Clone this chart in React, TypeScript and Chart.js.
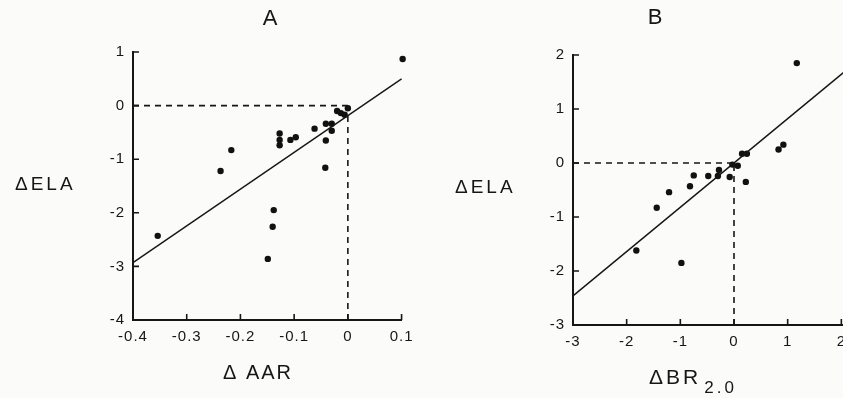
import React, { useEffect, useRef } from 'react';
import { Chart, registerables } from 'chart.js';

Chart.register(...registerables);

// ---------- Panel A: ΔELA vs ΔAAR ----------
const aarX = [0.102, -0.354, -0.237, -0.217, -0.149, -0.14, -0.138, -0.127, -0.127, -0.127, -0.107, -0.097, -0.062, -0.041, -0.03, -0.03, -0.041, -0.042, -0.02, -0.013, -0.006, 0.0];
const aarEla = [0.87, -2.43, -1.22, -0.83, -2.86, -2.26, -1.95, -0.52, -0.64, -0.74, -0.64, -0.59, -0.43, -0.34, -0.34, -0.47, -0.65, -1.16, -0.1, -0.14, -0.17, -0.05];
const aarFitX = [-0.4, 0.1];
const aarFitY = [-2.93, 0.5];
const aarTicksX = [-0.4, -0.3, -0.2, -0.1, 0, 0.1];
const aarTicksY = [-4, -3, -2, -1, 0, 1];

// ---------- Panel B: ΔELA vs ΔBR2.0 ----------
const brX = [1.17, 0.83, 0.92, 0.15, 0.24, 0.22, -0.03, 0.07, -0.08, -0.28, -0.3, -0.48, -0.75, -0.82, -1.21, -1.44, -1.82, -0.98];
const brEla = [1.85, 0.25, 0.34, 0.17, 0.17, -0.35, -0.03, -0.05, -0.26, -0.13, -0.24, -0.24, -0.23, -0.43, -0.54, -0.83, -1.62, -1.85];
const brFitX = [-3, 2.4];
const brFitY = [-2.46, 1.97];
const brTicksX = [-3, -2, -1, 0, 1, 2, 3];
const brTicksY = [-3, -2, -1, 0, 1, 2];

const INK = '#161616';
const FONT = "'Liberation Sans', Arial, sans-serif";

const zip = (xs: number[], ys: number[]) => xs.map((x, i) => ({ x, y: ys[i] }));

const fmt = (v: number) => {
  if (Math.abs(v) < 1e-9) return '0';
  return Number.isInteger(Math.round(v * 1000) / 1000) ? String(Math.round(v)) : v.toFixed(1);
};

const decorPlugin = {
  id: 'decor',
  beforeDraw(chart: any) {
    (chart.ctx as any).letterSpacing = '1px';
  },
  afterDraw(chart: any, _args: any, opts: any) {
    const { ctx, chartArea, scales } = chart;
    const xs = scales.x;
    const ys = scales.y;
    ctx.save();
    // inward tick marks
    ctx.strokeStyle = INK;
    ctx.lineWidth = 1.6;
    ctx.beginPath();
    xs.ticks.forEach((t: any) => {
      if (t.value === xs.min) return;
      const px = xs.getPixelForValue(t.value);
      ctx.moveTo(px, chartArea.bottom);
      ctx.lineTo(px, chartArea.bottom - 6);
    });
    ys.ticks.forEach((t: any) => {
      if (t.value === ys.min) return;
      const py = ys.getPixelForValue(t.value);
      ctx.moveTo(chartArea.left, py);
      ctx.lineTo(chartArea.left + 6, py);
    });
    ctx.stroke();

    ctx.fillStyle = INK;
    // panel title
    if (opts.title) {
      (ctx as any).letterSpacing = '0px';
      ctx.font = `22px ${FONT}`;
      ctx.textAlign = 'center';
      ctx.textBaseline = 'middle';
      ctx.fillText(opts.title.text, opts.title.x, opts.title.y);
    }
    // horizontal y-axis label
    if (opts.yLabel) {
      ctx.font = `19px ${FONT}`;
      (ctx as any).letterSpacing = '3px';
      ctx.textAlign = 'left';
      ctx.textBaseline = 'middle';
      ctx.fillText(opts.yLabel.text, opts.yLabel.x, opts.yLabel.y);
    }
    // x-axis label with optional subscript
    if (opts.xLabel) {
      (ctx as any).letterSpacing = opts.xLabel.spacing || '1px';
      ctx.font = `${opts.xLabel.size || 20}px ${FONT}`;
      ctx.textAlign = 'left';
      ctx.textBaseline = 'middle';
      const w = ctx.measureText(opts.xLabel.text).width;
      let subW = 0;
      if (opts.xLabel.sub) {
        ctx.font = `17px ${FONT}`;
        subW = ctx.measureText(opts.xLabel.sub).width + 3;
      }
      const startX = opts.xLabel.cx - (w + subW) / 2;
      ctx.font = `${opts.xLabel.size || 20}px ${FONT}`;
      ctx.fillText(opts.xLabel.text, startX, opts.xLabel.y);
      if (opts.xLabel.sub) {
        ctx.font = `17px ${FONT}`;
        ctx.fillText(opts.xLabel.sub, startX + w + 3, opts.xLabel.y + 10);
      }
    }
    (ctx as any).letterSpacing = '0px';
    ctx.restore();
  },
};

function makeConfig(p: {
  px: number[]; py: number[]; fx: number[]; fy: number[];
  ticksX: number[]; ticksY: number[];
  xMin: number; xMax: number; yMin: number; yMax: number;
  pad: { left: number; right: number; top: number; bottom: number };
  yWidth: number; xHeight: number; decor: any;
}) {
  const setTicks = (vals: number[]) => (s: any) => {
    s.ticks = vals.map((v) => ({ value: v }));
  };
  return {
    type: 'scatter' as const,
    data: {
      datasets: [
        {
          data: zip([p.xMin, 0], [0, 0]),
          showLine: true,
          borderColor: INK,
          borderWidth: 1.6,
          borderDash: [6, 5],
          pointRadius: 0,
        },
        {
          data: zip([0, 0], [p.yMin, 0]),
          showLine: true,
          borderColor: INK,
          borderWidth: 1.6,
          borderDash: [6, 5],
          pointRadius: 0,
        },
        {
          data: zip(p.fx, p.fy),
          showLine: true,
          borderColor: INK,
          borderWidth: 1.4,
          pointRadius: 0,
          clip: 4,
        },
        {
          data: zip(p.px, p.py),
          pointRadius: 3.2,
          pointBackgroundColor: '#111',
          pointBorderWidth: 0,
          clip: false,
        },
      ],
    },
    options: {
      responsive: false,
      animation: false,
      events: [],
      layout: { padding: p.pad },
      plugins: {
        legend: { display: false },
        tooltip: { enabled: false },
        decor: p.decor,
      },
      scales: {
        x: {
          type: 'linear',
          min: p.xMin,
          max: p.xMax,
          afterBuildTicks: setTicks(p.ticksX),
          afterFit: (s: any) => { s.height = p.xHeight; },
          grid: { display: false, drawTicks: false },
          border: { display: true, color: INK, width: 2 },
          ticks: { color: INK, padding: 8, font: { size: 15, family: FONT }, callback: (v: any) => fmt(Number(v)), maxRotation: 0, autoSkip: false },
        },
        y: {
          type: 'linear',
          min: p.yMin,
          max: p.yMax,
          afterBuildTicks: setTicks(p.ticksY),
          afterFit: (s: any) => { s.width = p.yWidth; },
          grid: { display: false, drawTicks: false },
          border: { display: true, color: INK, width: 2 },
          ticks: { color: INK, padding: 8, font: { size: 15, family: FONT }, callback: (v: any) => fmt(Number(v)), autoSkip: false },
        },
      },
    },
    plugins: [decorPlugin],
  };
}

function Panel(props: { config: any; width: number; height: number }) {
  const ref = useRef<HTMLCanvasElement | null>(null);
  useEffect(() => {
    if (!ref.current) return;
    const chart = new Chart(ref.current, props.config);
    return () => chart.destroy();
  }, []);
  return <canvas ref={ref} width={props.width} height={props.height} style={{ display: 'block' }} />;
}

export default function App() {
  const configA = makeConfig({
    px: aarX, py: aarEla, fx: aarFitX, fy: aarFitY,
    ticksX: aarTicksX, ticksY: aarTicksY,
    xMin: -0.4, xMax: 0.1, yMin: -4, yMax: 1,
    pad: { left: 80, right: 14, top: 52, bottom: 40 },
    yWidth: 53, xHeight: 38,
    decor: {
      title: { text: 'A', x: 270, y: 19 },
      yLabel: { text: 'ΔELA', x: 15, y: 185 },
      xLabel: { text: 'Δ AAR', cx: 258, y: 373, size: 20, spacing: '2px' },
    },
  });
  const configB = makeConfig({
    px: brX, py: brEla, fx: brFitX, fy: brFitY,
    ticksX: brTicksX, ticksY: brTicksY,
    xMin: -3, xMax: 3, yMin: -3, yMax: 2,
    pad: { left: 100, right: 25, top: 55, bottom: 35 },
    yWidth: 53, xHeight: 38,
    decor: {
      title: { text: 'B', x: 235, y: 18 },
      yLabel: { text: 'ΔELA', x: 35, y: 188 },
      xLabel: { text: 'ΔBR', sub: '2.0', cx: 273, y: 378, size: 21, spacing: '3px' },
    },
  });
  return (
    <div style={{ position: 'absolute', left: 0, top: 0, width: 843, height: 398, background: '#fbfbfa', overflow: 'hidden' }}>
      <div style={{ position: 'absolute', left: 0, top: 0 }}>
        <Panel config={configA} width={420} height={398} />
      </div>
      <div style={{ position: 'absolute', left: 420, top: 0, width: 423, height: 398, overflow: 'hidden' }}>
        <Panel config={configB} width={500} height={398} />
      </div>
    </div>
  );
}
